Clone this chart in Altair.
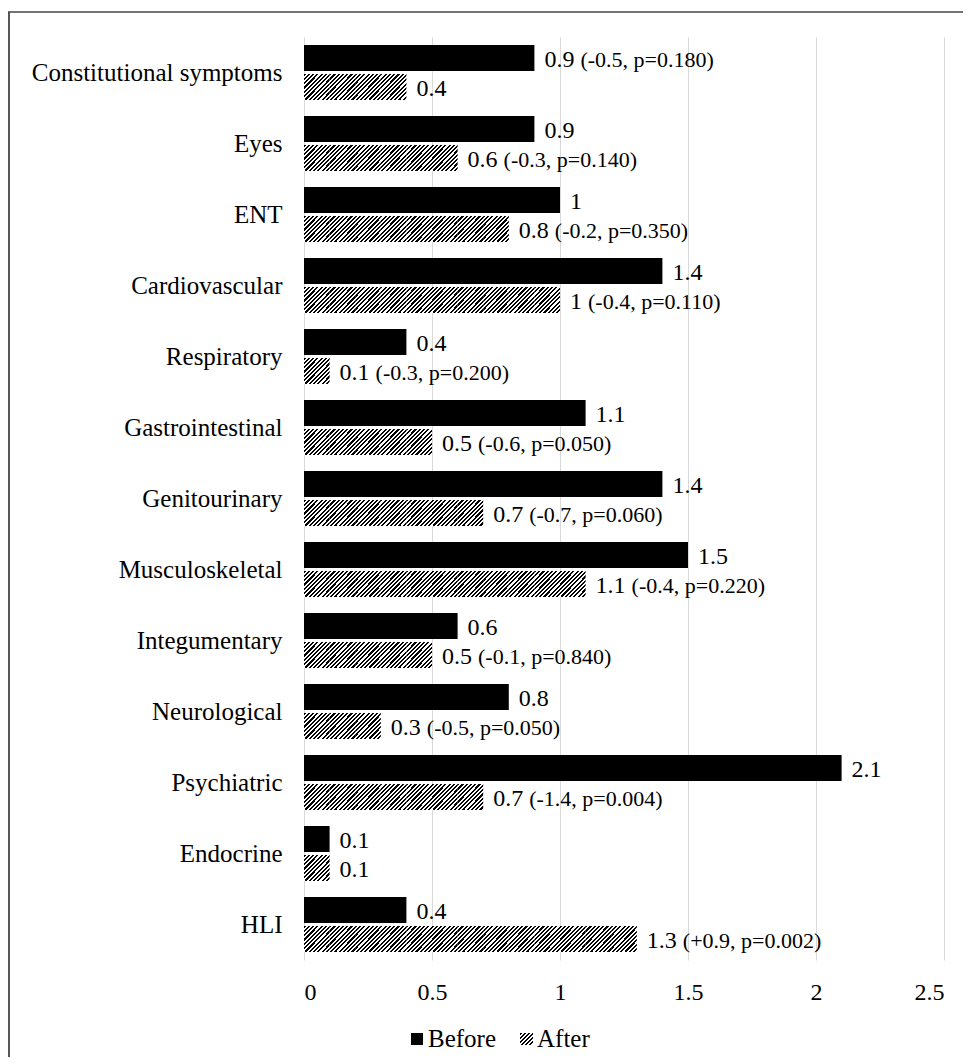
import altair as alt
import pandas as pd

categories = ["Constitutional symptoms", "Eyes", "ENT", "Cardiovascular", "Respiratory",
              "Gastrointestinal", "Genitourinary", "Musculoskeletal", "Integumentary\u00a0",
              "Neurological", "Psychiatric", "Endocrine", "HLI"]
before = [0.9, 0.9, 1, 1.4, 0.4, 1.1, 1.4, 1.5, 0.6, 0.8, 2.1, 0.1, 0.4]
after = [0.4, 0.6, 0.8, 1, 0.1, 0.5, 0.7, 1.1, 0.5, 0.3, 0.7, 0.1, 1.3]
before_notes = ["(-0.5, p=0.180)", "", "", "", "", "", "", "", "", "", "", "", ""]
after_notes = ["", "(-0.3, p=0.140)", "(-0.2, p=0.350)", "(-0.4, p=0.110)", "(-0.3, p=0.200)",
               "(-0.6, p=0.050)", "(-0.7, p=0.060)", "(-0.4, p=0.220)", "(-0.1, p=0.840)",
               "(-0.5, p=0.050)", "(-1.4, p=0.004)", "", "(+0.9, p=0.002)"]
series = ["Before", "After"]
x_ticks = [0, 0.5, 1, 1.5, 2, 2.5]

rows = []
for c, b, a, nb, na in zip(categories, before, after, before_notes, after_notes):
    rows.append({"category": c, "series": "Before", "value": b, "note": nb})
    rows.append({"category": c, "series": "After", "value": a, "note": na})
df = pd.DataFrame(rows)

FONT = "Liberation Serif"
PLOT_W = 640
X_MAX = 2.5


def hatch(n, frac=0.5):
    stops = []
    for k in range(n):
        a = k / n
        b = (k + frac) / n
        c = min(1.0, (k + 1) / n)
        stops += [{"offset": a, "color": "#000000"}, {"offset": b, "color": "#000000"},
                  {"offset": b, "color": "#ffffff"}, {"offset": c, "color": "#ffffff"}]
    return {"gradient": "linear", "x1": 0, "y1": 0, "x2": 1, "y2": 1, "stops": stops}


y_enc = alt.Y("category:N", sort=categories,
              scale=alt.Scale(domain=categories, paddingInner=0.225, paddingOuter=0.1125),
              axis=alt.Axis(title=None, labelFont=FONT, labelFontSize=25, labelColor="black",
                            labelPadding=22, labelLimit=500, ticks=False, domain=False, grid=False))
yoff = alt.YOffset("series:N", scale=alt.Scale(domain=series, paddingInner=0.1034, paddingOuter=0))
x_scale = alt.Scale(domain=[0, X_MAX], nice=False, zero=True)
x_axis = alt.Axis(title=None, values=x_ticks, labelExpr="toString(datum.value)", labelFont=FONT,
                  labelFontSize=24, labelColor="black", labelPadding=20, ticks=False,
                  domain=False, grid=True, gridColor="#d9d9d9", gridWidth=1)

base = alt.Chart(df)

before_bars = base.transform_filter("datum.series == 'Before'").mark_bar(
    fill="#000000"
).encode(x=alt.X("value:Q", scale=x_scale, axis=x_axis), y=y_enc, yOffset=yoff)

after_segs = base.transform_filter("datum.series == 'After'").transform_calculate(
    seq="sequence(0, round(datum.value * 10))"
).transform_flatten(["seq"]).transform_calculate(
    x0="datum.seq / 10", x1="(datum.seq + 1) / 10"
).mark_bar(fill=hatch(12)).encode(
    x=alt.X("x0:Q", scale=x_scale, axis=x_axis), x2="x1:Q", y=y_enc, yOffset=yoff
)

value_labels = base.mark_text(align="left", baseline="alphabetic", dx=10, dy=9,
                              font=FONT, fontSize=24, color="black").encode(
    x=alt.X("value:Q", scale=x_scale), y=y_enc, yOffset=yoff,
    text=alt.Text("value:Q", format="~g")
)

# note starts after the value label: 10px gap + label width (digits 12px, '.' 6px) + space
notes = base.transform_filter("datum.note != ''").transform_calculate(
    lbl="format(datum.value, '~g')"
).transform_calculate(
    off="10 + 12 * length(replace(datum.lbl, '.', '')) + (indexof(datum.lbl, '.') >= 0 ? 6 : 0) + 6"
).transform_calculate(
    xn=f"datum.value + datum.off * {X_MAX} / {PLOT_W}"
).mark_text(align="left", baseline="alphabetic", dy=9, font=FONT, fontSize=22, color="black").encode(
    x=alt.X("xn:Q", scale=x_scale), y=y_enc, yOffset=yoff, text="note:N"
)

one = alt.Data(values=[{"k": 1}])
frame_top = alt.Chart(one).mark_rule(color="#444444", strokeWidth=1.6).encode(
    x=alt.value(-296), x2=alt.value(700), y=alt.value(-25))
frame_left = alt.Chart(one).mark_rule(color="#444444", strokeWidth=1.8).encode(
    x=alt.value(-295), y=alt.value(-25), y2=alt.value(1100))

leg_before = alt.Chart(one).mark_rect(fill="#000000").encode(
    x=alt.value(107), x2=alt.value(119), y=alt.value(996), y2=alt.value(1008))
leg_after = alt.Chart(one).mark_rect(fill=hatch(6)).encode(
    x=alt.value(216), x2=alt.value(229), y=alt.value(996), y2=alt.value(1008))
leg_text = alt.Chart(alt.Data(values=[{"t": "Before", "px": 124}, {"t": "After", "px": 233}])).mark_text(
    align="left", baseline="alphabetic", font=FONT, fontSize=25, color="black"
).encode(x=alt.X("px:Q", scale=None), y=alt.value(1010), text="t:N")

chart = alt.layer(
    before_bars, after_segs, value_labels, notes, frame_top, frame_left, leg_before, leg_after, leg_text
).properties(
    width=PLOT_W, height=923,
    autosize=alt.AutoSizeParams(type="none"),
    padding={"left": 296, "top": 29, "right": 19, "bottom": 97},
    background="white",
).configure_view(stroke=None)

chart.save("out.html", embed_options={"renderer": "svg", "actions": False})
